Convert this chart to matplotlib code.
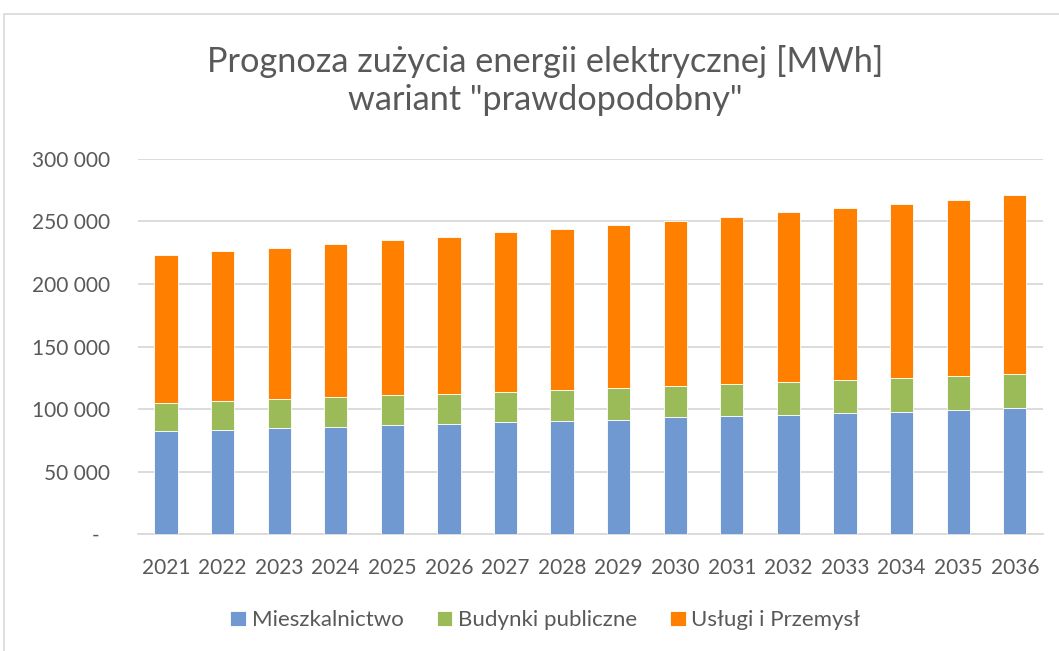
import matplotlib.pyplot as plt
import matplotlib.patches as mpatches
import numpy as np

plt.rcParams['font.family'] = ['Lato', 'DejaVu Sans']

years = ['2021', '2022', '2023', '2024', '2025', '2026', '2027', '2028',
         '2029', '2030', '2031', '2032', '2033', '2034', '2035', '2036']
mieszkalnictwo = [82700, 83500, 85100, 85900, 87100, 88300, 89500, 90700,
                  91800, 93500, 94500, 95800, 97100, 98200, 99800, 100900]
budynki = [22700, 23200, 22700, 23500, 23900, 24000, 24400, 24800,
           24800, 24700, 25300, 25700, 26100, 26400, 26400, 26900]
uslugi = [117700, 119300, 121100, 122500, 123800, 125600, 127300, 128600,
          130700, 132300, 134000, 135700, 137200, 139200, 141100, 143000]
series_names = ['Mieszkalnictwo', 'Budynki publiczne', 'Usługi i Przemysł']
colors = ['#7099d2', '#9bbb59', '#ff8000']
yticks = [0, 50000, 100000, 150000, 200000, 250000, 300000]

text_col = '#595959'

fig = plt.figure(figsize=(10.59, 6.51), dpi=100)
ax = fig.add_axes([0.130, 0.179, 0.855, 0.577])

# chart area border
fig.patches.append(mpatches.Rectangle((4 / 1059, -0.01), 1.1, (651 - 14) / 651 + 0.01,
                                      transform=fig.transFigure, fill=False,
                                      edgecolor='#d9d9d9', linewidth=1.2))

x = np.arange(len(years))
bottom = np.zeros(len(years))
for vals, name, c in zip([mieszkalnictwo, budynki, uslugi], series_names, colors):
    ax.bar(x, vals, 0.41, bottom=bottom, color=c, label=name,
           edgecolor='white', linewidth=0.6, zorder=3)
    bottom += np.array(vals)

ax.set_xlim(-0.5, len(years) - 0.5)
ax.set_ylim(0, 300000)
ax.set_yticks(yticks)
ax.set_yticklabels(['-  '] + [f'{v:,}'.replace(',', ' ') for v in yticks[1:]])
ax.set_xticks(x)
ax.set_xticklabels(years)
ax.tick_params(axis='both', length=0, colors=text_col, labelsize=15)
ax.tick_params(axis='y', pad=20)
ax.tick_params(axis='x', pad=17)
ax.grid(axis='y', color='#d9d9d9', linewidth=1.3, zorder=0)
for s in ['left', 'right', 'top']:
    ax.spines[s].set_visible(False)
ax.spines['bottom'].set_color('#d9d9d9')
ax.spines['bottom'].set_linewidth(1.3)

fig.text(0.515, 0.876, 'Prognoza zużycia energii elektrycznej [MWh]\nwariant "prawdopodobny"',
         ha='center', va='center', fontsize=24.7, color=text_col, linespacing=1.25)

fig.legend(loc='center', bbox_to_anchor=(0.515, 0.047), ncol=3, frameon=False,
           fontsize=16, labelcolor=text_col, handlelength=0.7, handleheight=0.7,
           handletextpad=0.25, columnspacing=1.5)

plt.savefig('out.png')
plt.close()
